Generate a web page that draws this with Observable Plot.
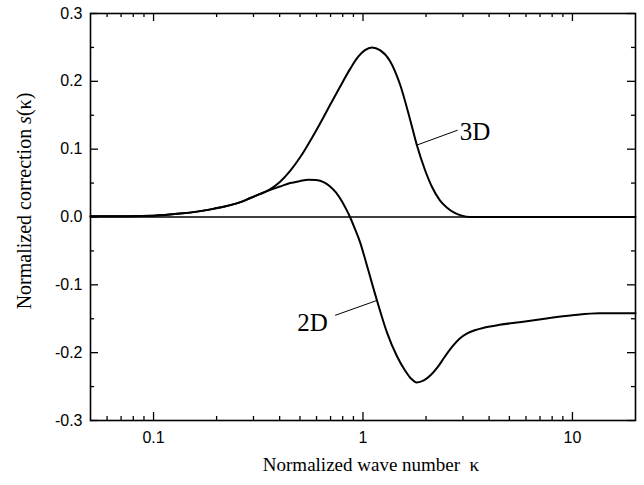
<!DOCTYPE html>
<html><head><meta charset="utf-8">
<script src="https://cdn.jsdelivr.net/npm/d3@7"></script>
<script src="https://cdn.jsdelivr.net/npm/@observablehq/plot@0.6"></script>
<style>body{margin:0;background:#fff}</style>
</head><body><div id="chart"></div>
<script>
// ---- data ----
const kappa3D = [0.05, 0.1, 0.134, 0.193, 0.26, 0.29, 0.323, 0.361, 0.402, 0.449, 0.501, 0.559, 0.624, 0.696, 0.777, 0.867, 0.947, 1.022, 1.104, 1.205, 1.345, 1.50, 1.674, 1.807, 1.973, 2.13, 2.324, 2.511, 2.741, 2.96, 3.233, 4, 10, 20];
const s3D     = [0.001, 0.002, 0.005, 0.012, 0.022, 0.028, 0.034, 0.041, 0.052, 0.068, 0.088, 0.112, 0.138, 0.165, 0.192, 0.218, 0.236, 0.246, 0.250, 0.246, 0.230, 0.196, 0.145, 0.106, 0.070, 0.045, 0.025, 0.014, 0.006, 0.002, 0, 0, 0, 0];
const kappa2D = [0.05, 0.1, 0.134, 0.193, 0.26, 0.29, 0.323, 0.361, 0.402, 0.449, 0.501, 0.547, 0.598, 0.652, 0.696, 0.744, 0.794, 0.830, 0.867, 0.916, 0.968, 1.045, 1.166, 1.301, 1.451, 1.585, 1.693, 1.807, 1.951, 2.107, 2.276, 2.457, 2.685, 2.898, 3.13, 3.417, 3.81, 4.49, 5.59, 7.36, 10, 13.4, 20];
const s2D     = [0.001, 0.002, 0.005, 0.012, 0.022, 0.028, 0.034, 0.040, 0.045, 0.050, 0.053, 0.055, 0.0545, 0.051, 0.045, 0.036, 0.023, 0.012, 0.0, -0.018, -0.037, -0.072, -0.123, -0.170, -0.205, -0.226, -0.238, -0.244, -0.241, -0.233, -0.221, -0.206, -0.190, -0.179, -0.172, -0.167, -0.163, -0.159, -0.155, -0.150, -0.145, -0.142, -0.142];

const xTickValues = [0.1, 1, 10];
const xTickLabels = ["0.1", "1", "10"];
const xMinorTicks = [0.06, 0.07, 0.08, 0.09, 0.2, 0.3, 0.4, 0.5, 0.6, 0.7, 0.8, 0.9, 2, 3, 4, 5, 6, 7, 8, 9];
const yTickValues = [-0.3, -0.2, -0.1, 0, 0.1, 0.2, 0.3];
const yTickLabels = ["-0.3", "-0.2", "-0.1", "0.0", "0.1", "0.2", "0.3"];
const yMinorTicks = [-0.25, -0.15, -0.05, 0.05, 0.15, 0.25];

const seriesNames = ["3D", "2D"];
const labelKappa = [2.9, 0.68];
const labelS = [0.126, -0.157];
const labelAnchor = ["start", "end"];
const pointerKappa1 = [1.807, 1.166];
const pointerS1 = [0.106, -0.123];
const pointerKappa2 = [2.83, 0.736];
const pointerS2 = [0.128, -0.145];

const xTitle = "Normalized wave number  κ";
const yTitle = "Normalized correction s(κ)";

// ---- build ----
const data3D = kappa3D.map((k, i) => ({k, s: s3D[i]}));
const data2D = kappa2D.map((k, i) => ({k, s: s2D[i]}));
const labels = seriesNames.map((n, i) => ({n, k: labelKappa[i], s: labelS[i], a: labelAnchor[i]}));
const pointers = seriesNames.map((n, i) => ({k1: pointerKappa1[i], s1: pointerS1[i], k2: pointerKappa2[i], s2: pointerS2[i]}));

const W = 644, H = 485, mL = 90, mR = 9, mT = 13, mB = 65;
const pw = W - mL - mR, ph = H - mT - mB;
const major = 8, minor = 4;
const sans = "Liberation Sans, Arial, sans-serif";
const serif = "Liberation Serif, Times New Roman, serif";

const chart = Plot.plot({
  width: W, height: H,
  marginLeft: mL, marginRight: mR, marginTop: mT, marginBottom: mB,
  x: {type: "log", domain: [0.05, 20]},
  y: {domain: [-0.3, 0.3]},
  style: {background: "#fff", color: "#000"},
  marks: [
    Plot.ruleY([0], {stroke: "#000", strokeWidth: 1.3}),
    Plot.tickY(yTickValues, {y: d => d, insetRight: pw - major, stroke: "#000", strokeWidth: 1.3}),
    Plot.tickY(yMinorTicks, {y: d => d, insetRight: pw - minor, stroke: "#000", strokeWidth: 1.3}),
    Plot.tickY(yTickValues, {y: d => d, insetLeft: pw - major, stroke: "#000", strokeWidth: 1.3}),
    Plot.tickY(yMinorTicks, {y: d => d, insetLeft: pw - minor, stroke: "#000", strokeWidth: 1.3}),
    Plot.tickX(xTickValues, {x: d => d, insetTop: ph - major, stroke: "#000", strokeWidth: 1.3}),
    Plot.tickX(xMinorTicks, {x: d => d, insetTop: ph - minor, stroke: "#000", strokeWidth: 1.3}),
    Plot.tickX(xTickValues, {x: d => d, insetBottom: ph - major, stroke: "#000", strokeWidth: 1.3}),
    Plot.tickX(xMinorTicks, {x: d => d, insetBottom: ph - minor, stroke: "#000", strokeWidth: 1.3}),
    Plot.axisX(xTickValues, {anchor: "bottom", tickSize: 0, tickPadding: 11, label: null,
      tickFormat: d => xTickLabels[xTickValues.indexOf(d)], fontSize: 16, fontFamily: sans}),
    Plot.axisY(yTickValues, {anchor: "left", tickSize: 0, tickPadding: 8, label: null,
      tickFormat: d => yTickLabels[yTickValues.indexOf(d)], fontSize: 16, fontFamily: sans}),
    Plot.line(data3D, {x: "k", y: "s", curve: "monotone-x", stroke: "#000", strokeWidth: 2}),
    Plot.line(data2D, {x: "k", y: "s", curve: "monotone-x", stroke: "#000", strokeWidth: 2}),
    Plot.link(pointers, {x1: "k1", y1: "s1", x2: "k2", y2: "s2", stroke: "#000", strokeWidth: 1}),
    Plot.text(labels, {x: "k", y: "s", text: "n", textAnchor: "start", fontSize: 25, fontFamily: serif, filter: d => d.a === "start"}),
    Plot.text(labels, {x: "k", y: "s", text: "n", textAnchor: "end", fontSize: 25, fontFamily: serif, filter: d => d.a === "end"}),
    Plot.text([xTitle], {frameAnchor: "bottom", textAnchor: "middle", dy: 50, dx: 8, fontSize: 19, fontFamily: serif}),
    Plot.text([yTitle], {frameAnchor: "left", textAnchor: "middle", dx: -66, dy: -16, rotate: -90, fontSize: 20, fontFamily: serif}),
    Plot.frame({stroke: "#000", strokeWidth: 1.6})
  ]
});
document.getElementById("chart").appendChild(chart);

// italic "s" in the y title
d3.select(chart).selectAll("text").filter(function() { return this.textContent === yTitle; })
  .each(function() {
    const t = d3.select(this);
    t.text(null);
    t.append("tspan").text("Normalized correction ");
    t.append("tspan").attr("font-style", "italic").text("s");
    t.append("tspan").text("(κ)");
  });
</script>
</body></html>
